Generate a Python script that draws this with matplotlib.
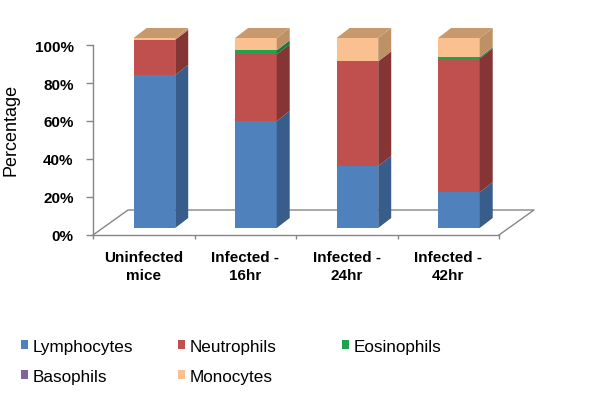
import matplotlib.pyplot as plt
from matplotlib.patches import Polygon, Rectangle

plt.rcParams['font.family'] = ['Liberation Sans', 'DejaVu Sans']

categories = ['Uninfected\nmice', 'Infected -\n16hr', 'Infected -\n24hr', 'Infected -\n42hr']
series = ['Lymphocytes', 'Neutrophils', 'Eosinophils', 'Basophils', 'Monocytes']
lymphocytes = [80.5, 56.3, 32.6, 18.8]
neutrophils = [18.5, 35.1, 55.1, 70.4]
eosinophils = [0.0, 2.1, 0.0, 0.6]
basophils = [0.0, 0.0, 0.0, 0.2]
monocytes = [1.0, 6.5, 12.3, 10.0]
y_ticks = [0, 20, 40, 60, 80, 100]

values = [lymphocytes, neutrophils, eosinophils, basophils, monocytes]
front_colors = ['#4F81BD', '#C0504D', '#1FA34E', '#8064A2', '#FAC090']
side_colors = ['#385D8A', '#853533', '#167A3A', '#5E4A7A', '#BE9066']
top_color = '#C8996D'
grey = '#868686'

# pixel layout of the original (x per category, y per percent)
px_per_cat = 101.5
px_per_pct = 1.9
x0_px, y0_px = 93, 236

fig = plt.figure(figsize=(6, 4.02), dpi=100)
ax_l, ax_r, ax_t, ax_b = 60, 560, 15, 250
ax = fig.add_axes([ax_l / 600, 1 - ax_b / 402, (ax_r - ax_l) / 600, (ax_b - ax_t) / 402])
ax.set_xlim((ax_l - x0_px) / px_per_cat - 0.5, (ax_r - x0_px) / px_per_cat - 0.5)
ax.set_ylim((y0_px - ax_b) / px_per_pct, (y0_px - ax_t) / px_per_pct)

# floor depth and bar geometry in data units
floor_dx, floor_dy = 35 / px_per_cat, 25 / px_per_pct
bar_off, bar_w = -0.10, 0.41
bar_base = 7 / px_per_pct
side_dx, side_dy = 13 / px_per_cat, 10 / px_per_pct

n = len(categories)
# floor outline
ax.plot([-0.5, -0.5 + floor_dx, n - 0.5 + floor_dx, n - 0.5],
        [0, floor_dy, floor_dy, 0], color=grey, lw=1, zorder=1)

for i in range(n):
    left = i + bar_off
    right = left + bar_w
    cum = bar_base
    for s, vals in enumerate(values):
        v = vals[i]
        if v <= 0:
            continue
        ax.add_patch(Rectangle((left, cum), bar_w, v, facecolor=front_colors[s],
                               edgecolor='none', zorder=3))
        ax.add_patch(Polygon([(right, cum), (right + side_dx, cum + side_dy),
                              (right + side_dx, cum + v + side_dy), (right, cum + v)],
                             closed=True, facecolor=side_colors[s], edgecolor='none', zorder=3))
        cum += v
    ax.add_patch(Polygon([(left, cum), (left + side_dx, cum + side_dy),
                          (right + side_dx, cum + side_dy), (right, cum)],
                         closed=True, facecolor=top_color, edgecolor='none', zorder=3))

for side in ['top', 'right']:
    ax.spines[side].set_visible(False)
ax.spines['left'].set_position(('data', -0.5))
ax.spines['left'].set_bounds(0, 100)
ax.spines['bottom'].set_position(('data', 0))
ax.spines['bottom'].set_bounds(-0.5, n - 0.5)
for side in ['left', 'bottom']:
    ax.spines[side].set_color(grey)
    ax.spines[side].set_linewidth(1)

ax.set_yticks(y_ticks)
ax.set_yticklabels([f'{t}%' for t in y_ticks], fontsize=11, fontweight='bold')
ax.tick_params(axis='y', direction='out', length=5, width=1, color=grey, pad=9)

ax.set_xticks([i - 0.5 for i in range(n + 1)])
ax.set_xticklabels([])
ax.tick_params(axis='x', which='major', direction='out', length=3, width=1, color=grey)
ax.set_xticks(range(n), minor=True)
ax.set_xticklabels(categories, minor=True, fontsize=11, fontweight='bold', linespacing=1.3)
ax.tick_params(axis='x', which='minor', length=0, pad=11)

fig.text(11 / 600, 1 - 129.5 / 402, 'Percentage', rotation=90, fontsize=13,
         ha='center', va='center')

# legend laid out like the original (3 columns, 2 rows)
leg_cols = [21, 178, 342]
leg_rows = [352, 382]
for k, name in enumerate(series):
    cx = leg_cols[k % 3]
    by = leg_rows[k // 3]
    fig.patches.append(Rectangle((cx / 600, 1 - (by - 2) / 402), 7 / 600, 9 / 402,
                                 transform=fig.transFigure, facecolor=front_colors[k],
                                 edgecolor='none'))
    fig.text((cx + 12) / 600, 1 - by / 402, name, fontsize=12.3, ha='left', va='baseline')

fig.savefig('out.png', dpi=100)
